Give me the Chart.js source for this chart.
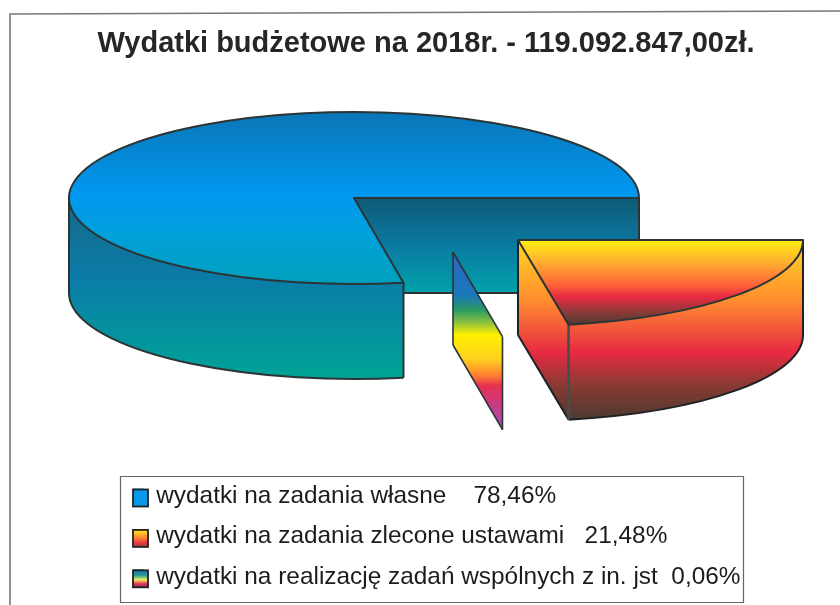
<!DOCTYPE html>
<html><head><meta charset="utf-8">
<script src="https://cdn.jsdelivr.net/npm/chart.js@4/dist/chart.umd.min.js"></script>
<style>html,body{margin:0;padding:0;background:#fff}canvas{display:block}</style>
</head><body><canvas id="c" width="840" height="605"></canvas>
<script>
const titleText = "Wydatki budżetowe na 2018r. - 119.092.847,00zł.";
const categories = [
  "wydatki na zadania własne    78,46%",
  "wydatki na zadania zlecone ustawami   21,48%",
  "wydatki na realizację zadań wspólnych z in. jst  0,06%"
];
const shares = [78.46, 21.48, 0.06];
const swatchColors = ["#0098ee", "#ff6a38", "#2a9a60"];

const RX = 285, RY = 86, D2R = Math.PI / 180;
const CUT_SHIFT = 2.46 * D2R;
const INK = "#2c3436";
const place = [
  {cx: 354, cy: 198, d: 95},
  {cx: 518, cy: 240, d: 95},
  {cx: 453, cy: 252, d: 93}
];
function grad(ctx, y0, y1, stops) {
  const g = ctx.createLinearGradient(0, y0, 0, y1);
  stops.forEach(s => g.addColorStop(s[0], s[1]));
  return g;
}
const pie3d = {
  id: "pie3d",
  afterLayout(chart) {
    chart.legend.left = 117;
  },
  afterDatasetsUpdate(chart) {
    const a = chart.getDatasetMeta(0).data;
    a[0].startAngle += CUT_SHIFT; a[0].circumference -= CUT_SHIFT;
    a[1].endAngle += CUT_SHIFT; a[1].circumference += CUT_SHIFT;
    a[2].startAngle += CUT_SHIFT; a[2].endAngle += CUT_SHIFT;
  },
  beforeDatasetsDraw(chart) {
    const ctx = chart.ctx, arcs = chart.getDatasetMeta(0).data;
    const pt = (P, a, dy) => [P.cx + RX * Math.cos(a), P.cy + RY * Math.sin(a) + (dy || 0)];
    const quad = (P, a) => {
      const e = pt(P, a);
      ctx.beginPath(); ctx.moveTo(P.cx, P.cy); ctx.lineTo(e[0], e[1]);
      ctx.lineTo(e[0], e[1] + P.d); ctx.lineTo(P.cx, P.cy + P.d); ctx.closePath(); ctx.fill();
    };
    const band = (P, a0, a1) => {
      ctx.beginPath(); ctx.ellipse(P.cx, P.cy, RX, RY, 0, a0, a1);
      ctx.ellipse(P.cx, P.cy + P.d, RX, RY, 0, a1, a0, true); ctx.closePath(); ctx.fill();
    };
    const line = (x0, y0, x1, y1) => { ctx.beginPath(); ctx.moveTo(x0, y0); ctx.lineTo(x1, y1); ctx.stroke(); };
    const top = (i, fill) => {
      const arc = arcs[i], P = place[i], k = RY / arc.outerRadius, sx = RX / arc.outerRadius;
      const toUser = Y => arc.y + (Y - P.cy) / k;
      ctx.save();
      ctx.translate(P.cx, P.cy); ctx.scale(sx, k); ctx.translate(-arc.x, -arc.y);
      const saved = arc.options;
      arc.options = Object.assign({}, saved, {backgroundColor: grad(ctx, toUser(fill[0]), toUser(fill[1]), fill[2]), borderWidth: 0});
      arc.draw(ctx);
      arc.options = saved;
      ctx.restore();
      ctx.strokeStyle = INK; ctx.lineWidth = 2; ctx.lineJoin = "round";
      ctx.beginPath(); ctx.moveTo(P.cx, P.cy);
      ctx.ellipse(P.cx, P.cy, RX, RY, 0, arc.startAngle, arc.endAngle); ctx.closePath(); ctx.stroke();
    };
    ctx.save();
    // large slice
    {
      const P = place[0], s = arcs[0].startAngle, e = arcs[0].endAngle, S = pt(P, s), E = pt(P, e);
      ctx.fillStyle = grad(ctx, P.cy, P.cy + P.d, [[0, "#0f5a76"], [.5, "#0a7aa2"], [1, "#02a2aa"]]);
      quad(P, e); quad(P, s);
      ctx.fillStyle = grad(ctx, P.cy, P.cy + RY + P.d, [[0, "#17688a"], [.45, "#0a7ca8"], [1, "#00a496"]]);
      band(P, s, Math.PI);
      ctx.strokeStyle = INK; ctx.lineWidth = 2;
      ctx.beginPath(); ctx.ellipse(P.cx, P.cy + P.d, RX, RY, 0, s, Math.PI); ctx.stroke();
      line(P.cx - RX, P.cy, P.cx - RX, P.cy + P.d);
      line(S[0], S[1], S[0], S[1] + P.d);
      line(E[0], E[1], E[0], E[1] + P.d);
      line(S[0], P.cy + P.d, E[0], P.cy + P.d);
      top(0, [P.cy - RY, P.cy + RY, [[0, "#0a76b6"], [.47, "#0098f0"], [.72, "#00a0da"], [1, "#00a0bc"]]]);
    }
    // thin slice
    {
      const P = place[2], e = arcs[2].endAngle, E = pt(P, e);
      ctx.fillStyle = grad(ctx, 252, 428, [[0, "#2a66c0"], [.25, "#1a78b8"], [.33, "#2a9a60"], [.40, "#8ac040"], [.47, "#fff000"], [.61, "#ffd020"], [.70, "#ff8030"], [.76, "#e83050"], [.90, "#c04090"], [1, "#a04ab0"]]);
      quad(P, e);
      ctx.strokeStyle = INK; ctx.lineWidth = 1.6;
      line(P.cx, P.cy, E[0], E[1]); line(P.cx, P.cy + P.d, E[0], E[1] + P.d);
      line(P.cx, P.cy, P.cx, P.cy + P.d); line(E[0], E[1], E[0], E[1] + P.d);
    }
    // exploded slice
    {
      const P = place[1], s = arcs[1].startAngle, e = arcs[1].endAngle, S = pt(P, s), E = pt(P, e);
      ctx.fillStyle = grad(ctx, P.cy, P.cy + RY + P.d, [[0, "#ffd820"], [.33, "#ff8e30"], [.62, "#e82a42"], [.8, "#8a3a34"], [1, "#4a3a30"]]);
      quad(P, s); band(P, s, e); quad(P, e);
      ctx.strokeStyle = "#1e2224"; ctx.lineWidth = 2;
      ctx.beginPath(); ctx.ellipse(P.cx, P.cy + P.d, RX, RY, 0, s, e); ctx.stroke();
      line(P.cx, P.cy, P.cx, P.cy + P.d);
      line(S[0], S[1], S[0], S[1] + P.d);
      line(P.cx, P.cy + P.d, E[0], E[1] + P.d);
      ctx.strokeStyle = "#3f5054"; ctx.lineWidth = 2.6;
      line(E[0], E[1], E[0], E[1] + P.d);
      top(1, [P.cy, P.cy + RY, [[0, "#fff010"], [.25, "#ffb030"], [.52, "#ff6438"], [.66, "#ea2a44"], [.84, "#8a3a38"], [1, "#4a3a30"]]]);
    }
    ctx.restore();
    return false;
  },
  afterDraw(chart) {
    const ctx = chart.ctx, boxes = chart.legend.legendHitBoxes;
    ctx.save();
    // page frame
    ctx.strokeStyle = "#777"; ctx.lineWidth = 1.6;
    ctx.beginPath(); ctx.moveTo(10, 605); ctx.lineTo(10, 14); ctx.lineTo(840, 11); ctx.stroke();
    // legend frame
    ctx.strokeStyle = "#666"; ctx.lineWidth = 1.2;
    ctx.beginPath(); ctx.moveTo(120.5, 603); ctx.lineTo(120.5, 476.5); ctx.lineTo(743.5, 476.5); ctx.lineTo(743.5, 602.5); ctx.lineTo(120.5, 602.5); ctx.stroke();
    // gradient swatches
    const fills = [
      () => "#0a98ea",
      (y, h) => grad(ctx, y, y + h, [[0, "#ffe820"], [.45, "#ff8a34"], [.75, "#e83a42"], [1, "#a04040"]]),
      (y, h) => grad(ctx, y, y + h, [[0, "#1a70c0"], [.3, "#2a9a90"], [.55, "#e8f060"], [.8, "#e83050"], [1, "#803a60"]])
    ];
    boxes.forEach((b, i) => {
      const bw = 15, bh = 17, x = b.left, y = b.top + (b.height - bh) / 2 + 2;
      ctx.fillStyle = fills[i](y, bh);
      ctx.fillRect(x, y, bw, bh);
      ctx.strokeStyle = "#222"; ctx.lineWidth = 1.8;
      ctx.strokeRect(x, y, bw, bh);
    });
    ctx.restore();
  }
};
new Chart(document.getElementById("c"), {
  type: "pie",
  data: {labels: categories, datasets: [{data: shares, backgroundColor: swatchColors, borderWidth: 0}]},
  options: {
    responsive: false,
    animation: false,
    rotation: 167.54,
    layout: {padding: {left: 12, right: 0, top: 0, bottom: 6}},
    plugins: {
      tooltip: {enabled: false},
      title: {display: true, text: titleText, color: "#262626",
        font: {family: "'Liberation Sans', Arial, sans-serif", size: 29, weight: "bold"},
        padding: {top: 27, bottom: 10}},
      legend: {position: "bottom", align: "start",
        labels: {boxWidth: 11, boxHeight: 15, padding: 16, color: "#1c1c1c",
          font: {family: "'Liberation Sans', Arial, sans-serif", size: 24.4}}}
    }
  },
  plugins: [pie3d]
});
</script></body></html>
